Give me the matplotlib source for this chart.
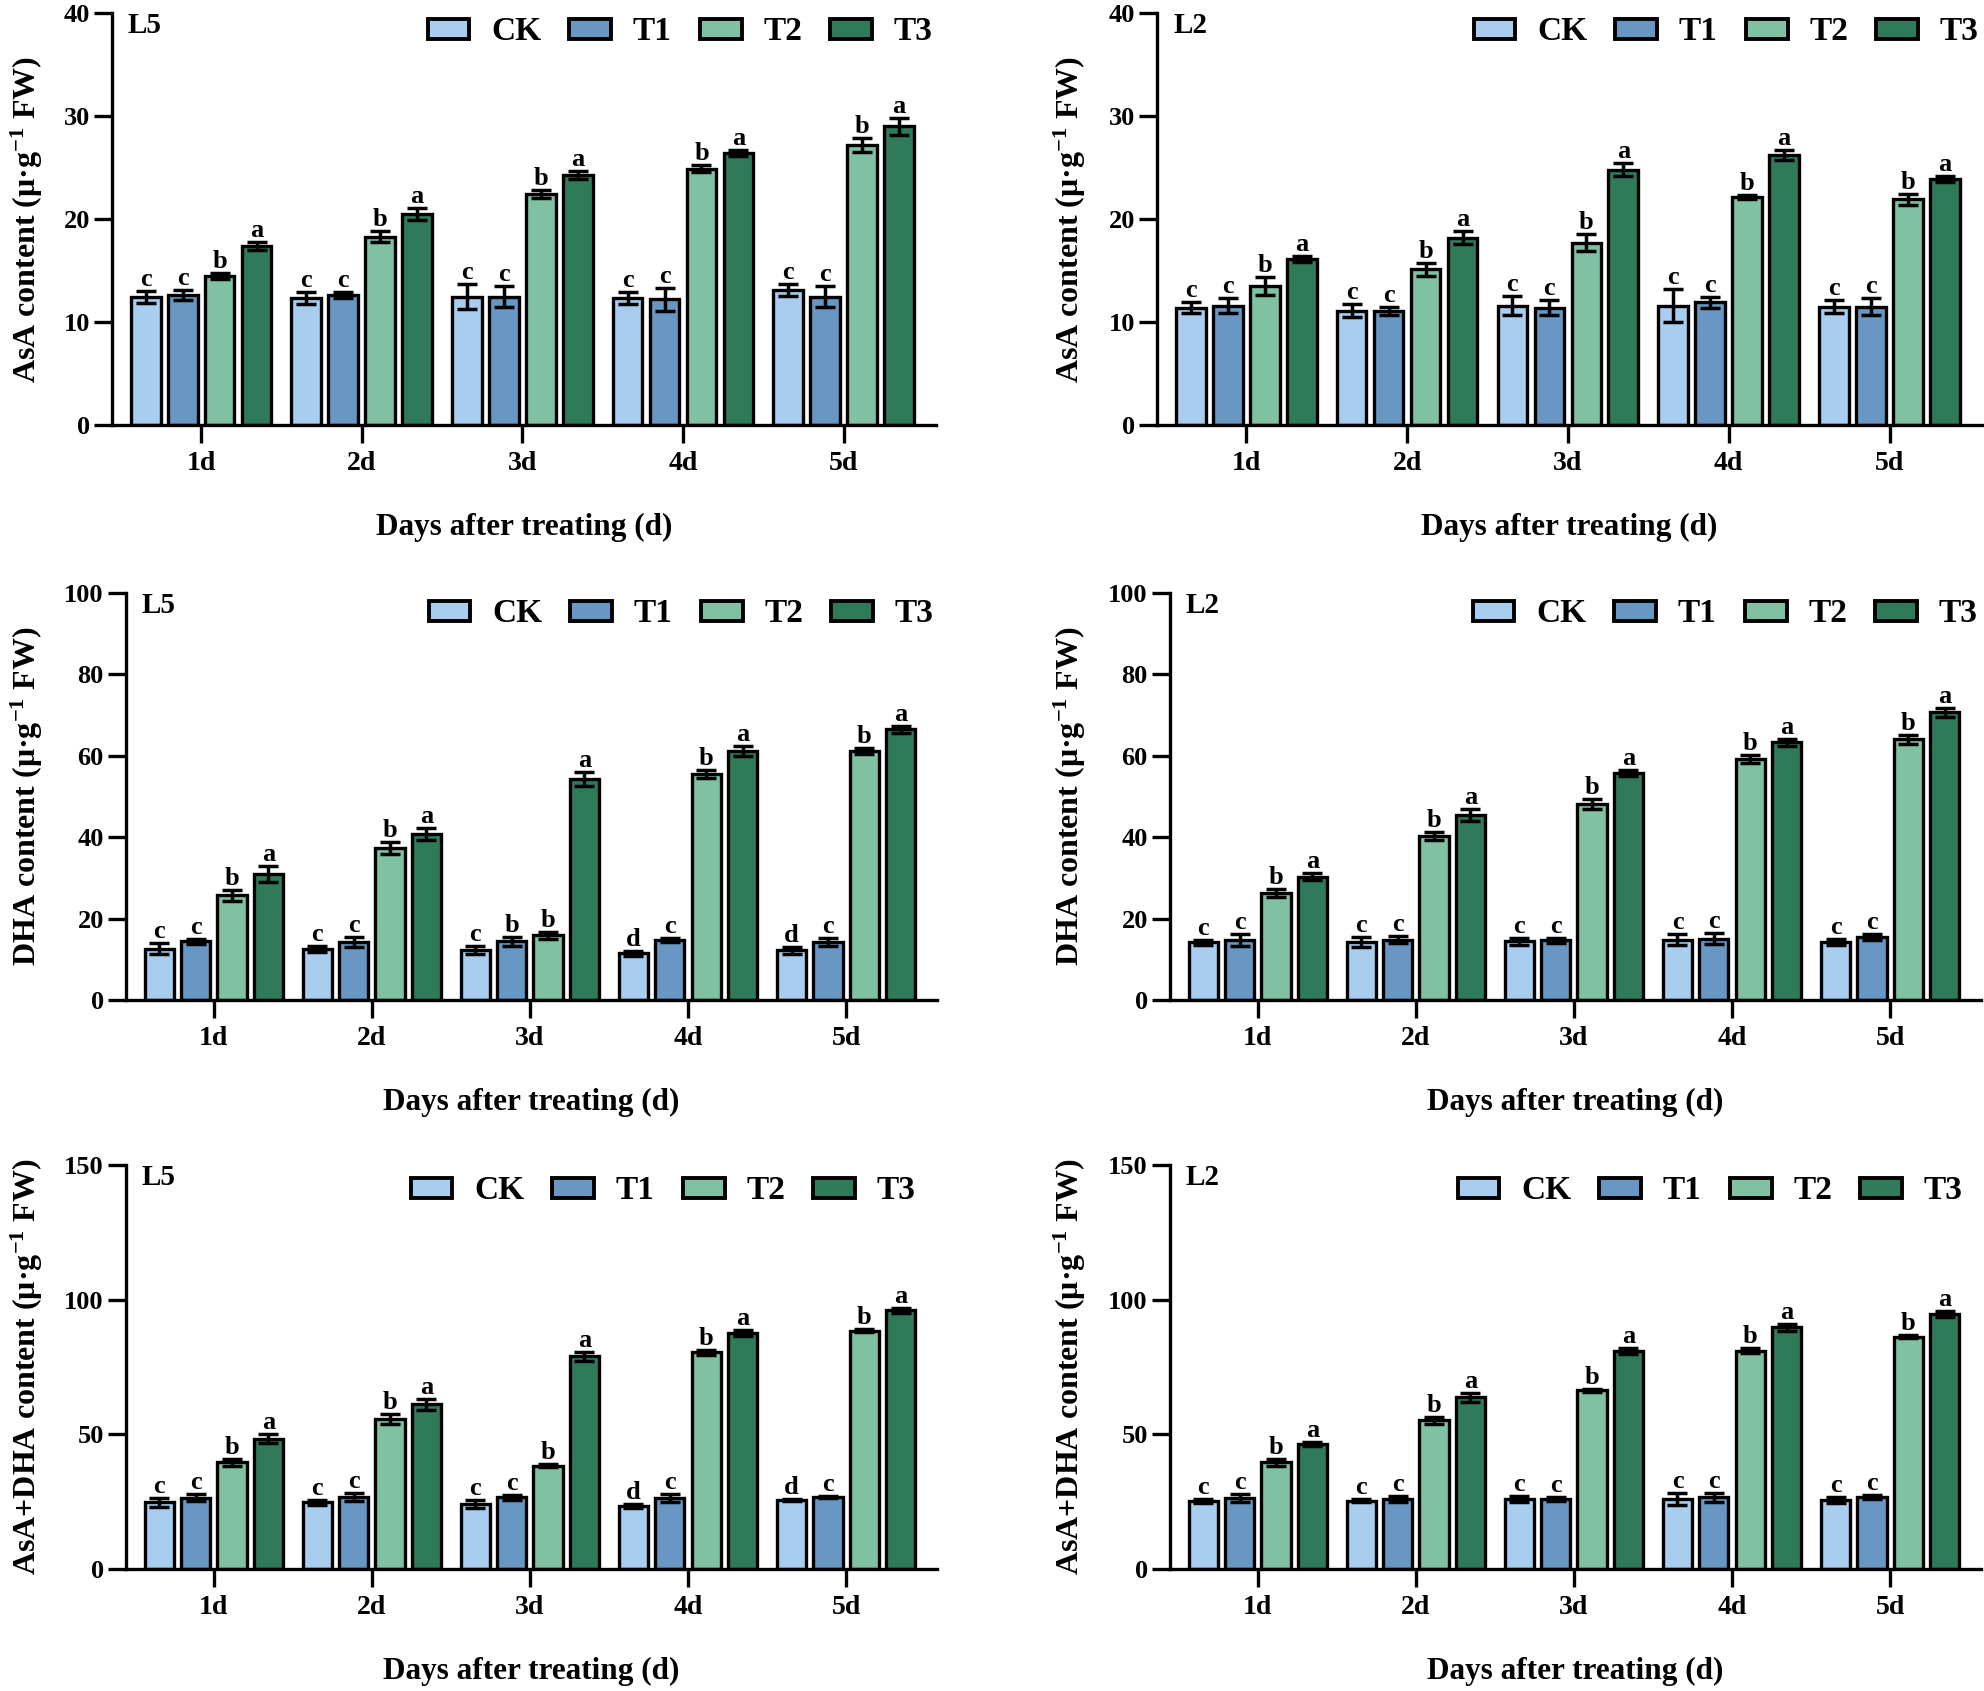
import matplotlib
matplotlib.use("Agg")
import matplotlib.pyplot as plt
from matplotlib.patches import Patch
import numpy as np

plt.rcParams['font.family'] = ['Liberation Serif', 'DejaVu Serif']
plt.rcParams['font.weight'] = 'bold'
plt.rcParams['mathtext.fontset'] = 'custom'
plt.rcParams['mathtext.rm'] = 'Liberation Serif:bold'
plt.rcParams['mathtext.bf'] = 'Liberation Serif:bold'
plt.rcParams['mathtext.default'] = 'rm'

days = ['1d', '2d', '3d', '4d', '5d']
treatments = ['CK', 'T1', 'T2', 'T3']
colors = ['#A8CDEE', '#6897C4', '#80C1A4', '#2F7A5B']

# ---- AsA, L5 ----
asa_l5 = {
    'CK': [12.45, 12.3, 12.45, 12.3, 13.1],
    'T1': [12.6, 12.6, 12.45, 12.2, 12.45],
    'T2': [14.5, 18.3, 22.4, 24.9, 27.2],
    'T3': [17.4, 20.5, 24.3, 26.4, 29.0],
}
asa_l5_err = {
    'CK': [0.6, 0.6, 1.2, 0.6, 0.6],
    'T1': [0.5, 0.3, 1.0, 1.1, 1.0],
    'T2': [0.3, 0.5, 0.4, 0.3, 0.7],
    'T3': [0.4, 0.6, 0.4, 0.3, 0.8],
}
asa_l5_let = {
    'CK': ['c', 'c', 'c', 'c', 'c'],
    'T1': ['c', 'c', 'c', 'c', 'c'],
    'T2': ['b', 'b', 'b', 'b', 'b'],
    'T3': ['a', 'a', 'a', 'a', 'a'],
}

# ---- AsA, L2 ----
asa_l2 = {
    'CK': [11.4, 11.1, 11.6, 11.6, 11.5],
    'T1': [11.6, 11.1, 11.4, 11.9, 11.5],
    'T2': [13.5, 15.1, 17.7, 22.1, 21.9],
    'T3': [16.1, 18.2, 24.8, 26.2, 23.9],
}
asa_l2_err = {
    'CK': [0.5, 0.6, 0.9, 1.6, 0.6],
    'T1': [0.7, 0.4, 0.7, 0.5, 0.8],
    'T2': [0.9, 0.6, 0.8, 0.2, 0.5],
    'T3': [0.3, 0.6, 0.6, 0.5, 0.3],
}
asa_l2_let = asa_l5_let

# ---- DHA, L5 ----
dha_l5 = {
    'CK': [12.6, 12.6, 12.2, 11.5, 12.2],
    'T1': [14.4, 14.2, 14.4, 14.8, 14.2],
    'T2': [25.7, 37.4, 15.9, 55.5, 61.2],
    'T3': [31.0, 40.7, 54.3, 61.2, 66.5],
}
dha_l5_err = {
    'CK': [1.3, 0.7, 1.0, 0.6, 0.8],
    'T1': [0.7, 1.3, 1.2, 0.5, 1.0],
    'T2': [1.4, 1.5, 0.9, 1.0, 0.8],
    'T3': [2.0, 1.5, 1.7, 1.2, 0.9],
}
dha_l5_let = {
    'CK': ['c', 'c', 'c', 'd', 'd'],
    'T1': ['c', 'c', 'b', 'c', 'c'],
    'T2': ['b', 'b', 'b', 'b', 'b'],
    'T3': ['a', 'a', 'a', 'a', 'a'],
}

# ---- DHA, L2 ----
dha_l2 = {
    'CK': [14.2, 14.2, 14.4, 14.8, 14.2],
    'T1': [14.8, 14.8, 14.7, 15.1, 15.5],
    'T2': [26.3, 40.3, 48.2, 59.2, 64.1],
    'T3': [30.3, 45.5, 55.7, 63.3, 70.7],
}
dha_l2_err = {
    'CK': [0.6, 1.2, 0.9, 1.3, 0.7],
    'T1': [1.5, 0.9, 0.6, 1.4, 0.7],
    'T2': [1.0, 1.1, 1.2, 0.9, 1.1],
    'T3': [0.8, 1.4, 0.7, 0.8, 1.1],
}
dha_l2_let = asa_l5_let

# ---- AsA+DHA, L5 ----
tot_l5 = {
    'CK': [24.7, 24.7, 24.3, 23.3, 25.6],
    'T1': [26.4, 26.7, 26.7, 26.4, 26.7],
    'T2': [39.7, 55.7, 38.4, 80.4, 88.5],
    'T3': [48.4, 61.1, 78.9, 87.7, 96.0],
}
tot_l5_err = {
    'CK': [1.5, 0.8, 1.5, 0.8, 0.5],
    'T1': [1.3, 1.4, 0.9, 1.6, 0.5],
    'T2': [1.3, 1.9, 0.6, 1.0, 0.5],
    'T3': [1.8, 2.0, 1.8, 1.2, 1.0],
}
tot_l5_let = {
    'CK': ['c', 'c', 'c', 'd', 'd'],
    'T1': ['c', 'c', 'c', 'c', 'c'],
    'T2': ['b', 'b', 'b', 'b', 'b'],
    'T3': ['a', 'a', 'a', 'a', 'a'],
}

# ---- AsA+DHA, L2 ----
tot_l2 = {
    'CK': [25.3, 25.3, 26.0, 26.0, 25.6],
    'T1': [26.3, 26.0, 26.0, 26.7, 26.7],
    'T2': [39.7, 55.3, 66.4, 81.1, 86.3],
    'T3': [46.5, 63.7, 80.9, 89.7, 94.7],
}
tot_l2_err = {
    'CK': [0.8, 0.6, 1.0, 2.2, 1.2],
    'T1': [1.6, 1.2, 0.8, 1.7, 0.8],
    'T2': [1.3, 1.3, 0.6, 1.0, 0.7],
    'T3': [0.8, 1.6, 1.0, 1.2, 1.0],
}
tot_l2_let = asa_l5_let

ylab_asa = r'AsA content (μ·g$^{-1}$ FW)'
ylab_dha = r'DHA content (μ·g$^{-1}$ FW)'
ylab_tot = r'AsA+DHA content (μ·g$^{-1}$ FW)'
xlab = 'Days after treating (d)'

W, H = 1984, 1691
fig = plt.figure(figsize=(W / 100, H / 100), dpi=100)

def frac(l, r, t, b):
    return [l / W, 1 - b / H, (r - l) / W, (b - t) / H]

# (rect, values, errors, letters, tag, ylabel, yticks, ylabel offset px, legend dx px, legend dy px)
panels = [
    (frac(112, 936, 13, 425), asa_l5, asa_l5_err, asa_l5_let, 'L5', ylab_asa, [0, 10, 20, 30, 40], 67, 0, 0),
    (frac(1157, 1982, 13, 425), asa_l2, asa_l2_err, asa_l2_let, 'L2', ylab_asa, [0, 10, 20, 30, 40], 69, 0, 0),
    (frac(126, 937, 593, 1000), dha_l5, dha_l5_err, dha_l5_let, 'L5', ylab_dha, [0, 20, 40, 60, 80, 100], 81, 0, 2),
    (frac(1170, 1981, 593, 1000), dha_l2, dha_l2_err, dha_l2_let, 'L2', ylab_dha, [0, 20, 40, 60, 80, 100], 82, 0, 2),
    (frac(126, 937, 1165, 1569), tot_l5, tot_l5_err, tot_l5_let, 'L5', ylab_tot, [0, 50, 100, 150], 81, 18, 7),
    (frac(1170, 1981, 1165, 1569), tot_l2, tot_l2_err, tot_l2_let, 'L2', ylab_tot, [0, 50, 100, 150], 82, 15, 7),
]

offsets = [-0.345, -0.115, 0.115, 0.345]
bw = 0.185
x = np.arange(len(days))

for rect, vals, errs, lets, tag, ylab, yticks, ylab_off, ldx, ldy in panels:
    ax = fig.add_axes(rect)
    ax_w_px = rect[2] * W
    ax_h_px = rect[3] * H
    for i, t in enumerate(treatments):
        xs = x + offsets[i]
        ax.bar(xs, vals[t], width=bw, color=colors[i], edgecolor='black',
               linewidth=2.4, zorder=2)
        ax.errorbar(xs, vals[t], yerr=errs[t], fmt='none', ecolor='black',
                    elinewidth=2.5, capsize=7, capthick=2.5, zorder=3)
        for xi, v, e, l in zip(xs, vals[t], errs[t], lets[t]):
            ax.annotate(l, (xi, v + e), xytext=(0, 0), textcoords='offset points',
                        ha='center', va='bottom', fontsize=19, fontweight='bold')
    ax.set_xlim(-0.555, 4.575)
    ax.set_ylim(yticks[0], yticks[-1])
    ax.set_yticks(yticks)
    ax.set_xticks(x)
    ax.set_xticklabels(days)
    for s in ['top', 'right']:
        ax.spines[s].set_visible(False)
    for s in ['left', 'bottom']:
        ax.spines[s].set_linewidth(2.4)
    ax.tick_params(axis='both', direction='out', length=13, width=2.4)
    ax.tick_params(axis='x', pad=6, labelsize=20)
    ax.tick_params(axis='y', pad=3, labelsize=19)
    for lab in ax.get_xticklabels() + ax.get_yticklabels():
        lab.set_fontweight('bold')
    ax.set_ylabel(ylab, fontsize=23, fontweight='bold')
    ax.yaxis.set_label_coords(-ylab_off / ax_w_px, 0.5)
    ax.set_xlabel(xlab, fontsize=22.5, fontweight='bold')
    ax.xaxis.set_label_coords(0.5, -88 / ax_h_px)
    ax.text(16 / ax_w_px, 1.0 + 1 / ax_h_px, tag, transform=ax.transAxes, ha='left', va='top',
            fontsize=21, fontweight='bold')
    handles = [Patch(facecolor=c, edgecolor='black', linewidth=2.8) for c in colors]
    ax.legend(handles, treatments, loc='upper right',
              bbox_to_anchor=(1.0 - ldx / ax_w_px, 1.0 - ldy / ax_h_px),
              ncol=4, frameon=False, handlelength=1.25,
              handleheight=0.55, handletextpad=0.65, columnspacing=0.85,
              borderaxespad=0.0, borderpad=0.1,
              prop={'weight': 'bold', 'size': 24})

fig.savefig('out.png', dpi=100)
